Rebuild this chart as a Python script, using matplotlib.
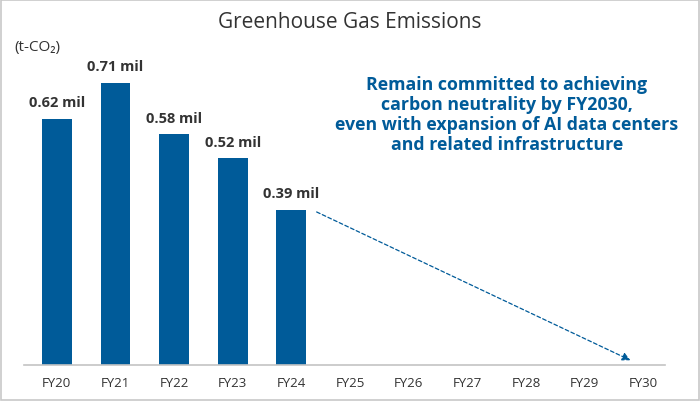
import matplotlib.pyplot as plt
from matplotlib.patches import Rectangle

plt.rcParams['font.family'] = ['Open Sans', 'DejaVu Sans']

years = ['FY20', 'FY21', 'FY22', 'FY23', 'FY24', 'FY25', 'FY26', 'FY27', 'FY28', 'FY29', 'FY30']
emissions = [0.62, 0.71, 0.58, 0.52, 0.39]
labels = ['0.62', '0.71', '0.58', '0.52', '0.39']

blue = '#005b99'

fig = plt.figure(figsize=(7, 4.02), dpi=100)
ax = fig.add_axes([24 / 700, 36 / 402, 641 / 700, 318 / 402])

x = list(range(len(years)))
ax.bar(x[:len(emissions)], emissions, width=0.51, color=blue)

for i, (v, lab) in enumerate(zip(emissions, labels)):
    ax.annotate(lab + ' mil', (i, v), xytext=(0, 7), textcoords='offset points',
                ha='center', va='bottom', fontsize=10.5, fontweight='bold', color='#333333')

# dashed trend arrow toward FY30
ax.annotate('', xy=(10 - 0.22, 0.012), xytext=(4 + 0.43, 0.385),
            arrowprops=dict(arrowstyle='-|>', color=blue, linestyle=(0, (3, 2)),
                            linewidth=0.9, mutation_scale=12, shrinkA=0, shrinkB=0))

ax.set_xlim(-0.56, 10.37)
ax.set_ylim(0, 0.8)
ax.set_xticks(x)
ax.set_xticklabels(years, fontsize=9.5, color='#333333')
ax.tick_params(axis='x', length=0, pad=8)
ax.set_yticks([])
for s in ['top', 'left', 'right']:
    ax.spines[s].set_visible(False)
ax.spines['bottom'].set_color('#c4c4c4')
ax.spines['bottom'].set_linewidth(1.2)

fig.text(0.5, 1 - 22 / 402, 'Greenhouse Gas Emissions', ha='center', va='center',
         fontsize=15, color='#333333')
fig.text(14 / 700, 1 - 47 / 402, '(t-CO₂)', ha='left', va='center', fontsize=11, color='#333333')

fig.text(507 / 700, 1 - 115 / 402,
         'Remain committed to achieving\ncarbon neutrality by FY2030,\n'
         'even with expansion of AI data centers\nand related infrastructure',
         ha='center', va='center', fontsize=12.8, fontweight='bold', color=blue, linespacing=1.12)

fig.patches.append(Rectangle((0.001, 0.002), 0.997, 0.995, transform=fig.transFigure,
                             fill=False, edgecolor='#c8c8c8', linewidth=1.2))

fig.savefig('out.png', dpi=100)
